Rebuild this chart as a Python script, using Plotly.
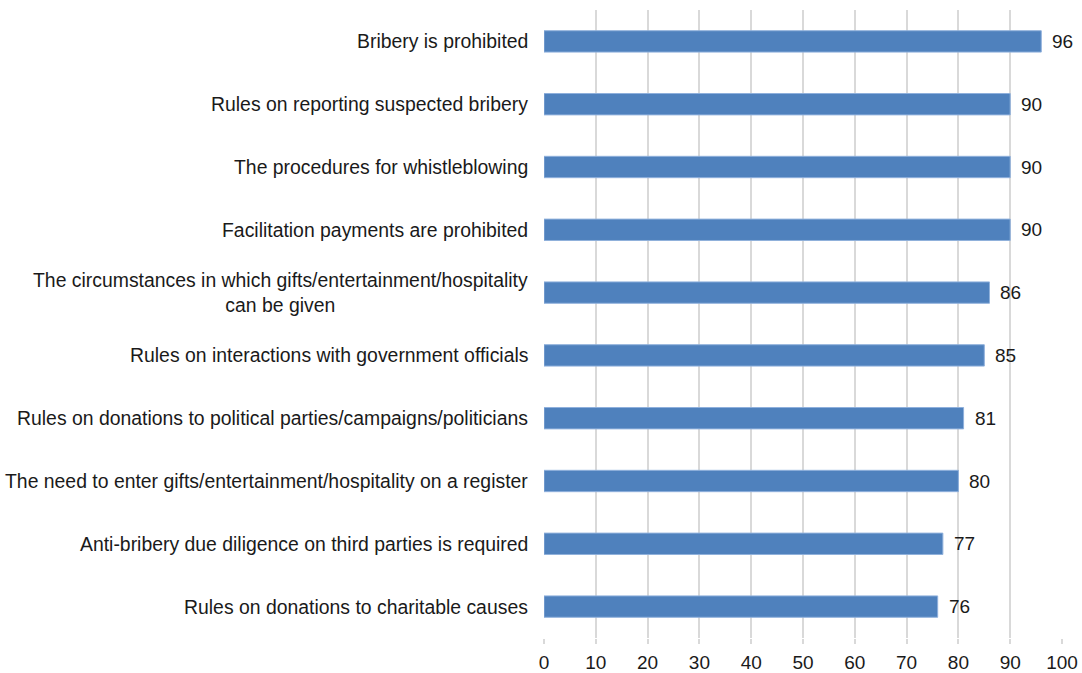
import plotly.graph_objects as go

categories = [
    "Bribery is prohibited",
    "Rules on reporting suspected bribery",
    "The procedures for whistleblowing",
    "Facilitation payments are prohibited",
    "The circumstances in which gifts/entertainment/hospitality<br>can be given",
    "Rules on interactions with government officials",
    "Rules on donations to political parties/campaigns/politicians",
    "The need to enter gifts/entertainment/hospitality on a register",
    "Anti-bribery due diligence on third parties is required",
    "Rules on donations to charitable causes",
]
values = [96, 90, 90, 90, 86, 85, 81, 80, 77, 76]
x_ticks = [0, 10, 20, 30, 40, 50, 60, 70, 80, 90, 100]

FONT = "Liberation Sans, Arial, Helvetica, sans-serif"
TXT = "#1a1a1a"
FS = 19
FS_CAT = 19.4

fig = go.Figure()
fig.add_trace(go.Bar(
    y=categories,
    x=values,
    orientation="h",
    marker=dict(color="#4F81BD", line=dict(color="#8fb0dc", width=1)),
    hoverinfo="x+y",
))

annotations = []
for c, v in zip(categories, values):
    annotations.append(dict(
        x=v, y=c, xref="x", yref="y", text=str(v), showarrow=False,
        xanchor="left", xshift=9, font=dict(family=FONT, size=FS, color=TXT),
    ))
    annotations.append(dict(
        x=0, y=c, xref="paper", yref="y", text=c, showarrow=False,
        xanchor="right", xshift=-14, align="center",
        font=dict(family=FONT, size=FS_CAT, color=TXT),
    ))

fig.update_layout(
    width=1082, height=673,
    margin=dict(l=544, r=20, t=10, b=35, autoexpand=False),
    paper_bgcolor="white", plot_bgcolor="white",
    bargap=0.66,
    showlegend=False,
    annotations=annotations,
    font=dict(family=FONT, size=FS, color=TXT),
)
fig.update_xaxes(
    range=[0, 100], tickvals=x_ticks, showgrid=True, gridcolor="#d9d9d9", gridwidth=1.5,
    zeroline=False, showline=False, ticks="outside", ticklen=5, tickcolor="#d9d9d9",
    tickwidth=1.5, tickfont=dict(family=FONT, size=FS, color=TXT), ticklabelstandoff=2,
    automargin=False,
)
fig.update_yaxes(
    categoryorder="array", categoryarray=categories[::-1],
    showticklabels=False, showgrid=False, zeroline=False, showline=False, automargin=False,
)

fig.write_html(
    "out.html",
    config={"displayModeBar": False},
    post_script="document.body.style.margin='0';document.body.style.padding='0';",
)
